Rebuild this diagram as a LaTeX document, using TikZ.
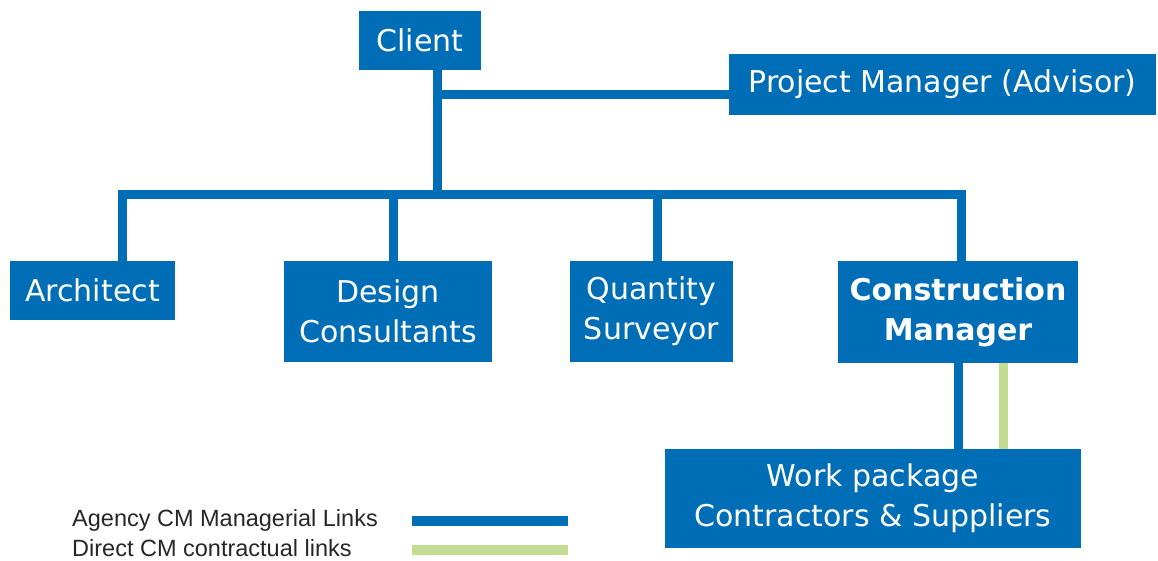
\documentclass[tikz,border=0pt]{standalone}
\usepackage{fontspec}
\setmainfont{DejaVu Sans}
\newfontfamily\legfont{Liberation Sans}
\definecolor{cmblue}{RGB}{0,110,183}
\definecolor{cmgreen}{RGB}{195,220,145}
\begin{document}
\begin{tikzpicture}[x=1pt,y=-1pt,
  box/.style={fill=cmblue,draw=none,text=white,inner sep=0pt,align=center,
    font=\fontsize{30}{40}\selectfont},
  bluelink/.style={draw=cmblue,line width=9pt},
  greenlink/.style={draw=cmgreen,line width=9pt},
  legtext/.style={anchor=west,inner sep=0pt,font=\legfont\fontsize{23.5}{25}\selectfont,text=black!85}]
\useasboundingbox (0,0) rectangle (1158,561);
% nodes
\node[box,minimum width=122pt,minimum height=59pt] (client) at (420,40.5) {Client};
\node[box,minimum width=427pt,minimum height=61pt] (pm) at (942.5,84.5) {Project Manager (Advisor)};
\node[box,minimum width=165pt,minimum height=59pt] (arch) at (92.5,290.5) {Architect};
\node[box,minimum width=208pt,minimum height=101pt] (des) at (388,311.5) {Design\\Consultants};
\node[box,minimum width=163pt,minimum height=101pt] (qs) at (651.5,311.5) {Quantity\\Surveyor};
\node[box,minimum width=240pt,minimum height=102pt,font=\bfseries\fontsize{30}{40}\selectfont] (cm) at (958,312) {Construction\\Manager};
\node[box,minimum width=416pt,minimum height=99pt] (wp) at (873,498.5) {Work package\\Contractors \& Suppliers};
% junction coordinates
\coordinate (cj) at (437,195);
\coordinate (pj) at (437,95);
\coordinate (busL) at (122,195);
\coordinate (busR) at (961,195);
\coordinate (dj) at (393,195);
\coordinate (qj) at (657,195);
\coordinate (bdown) at (958,0);
\coordinate (gdown) at (1003,0);
% connectors
\draw[bluelink] (client.south -| cj) -- (cj);
\draw[bluelink] (pj) -- (pj -| pm.west);
\draw[bluelink,line join=miter] (busL |- arch.north) -- (busL) -- (busR) -- (busR |- cm.north);
\draw[bluelink] (dj) -- (dj |- des.north);
\draw[bluelink] (qj) -- (qj |- qs.north);
\draw[bluelink] (bdown |- cm.south) -- (bdown |- wp.north);
\draw[greenlink] (gdown |- cm.south) -- (gdown |- wp.north);
% legend
\node[legtext] (l1) at (72,520) {Agency CM Managerial Links};
\node[legtext] (l2) at (72,548) {Direct CM contractual links};
\coordinate (la) at (412,521);
\coordinate (lb) at (568,521);
\coordinate (lc) at (412,550);
\coordinate (ld) at (568,550);
\draw[draw=cmblue,line width=10pt] (la) -- (lb);
\draw[draw=cmgreen,line width=10pt] (lc) -- (ld);
\end{tikzpicture}
\end{document}
